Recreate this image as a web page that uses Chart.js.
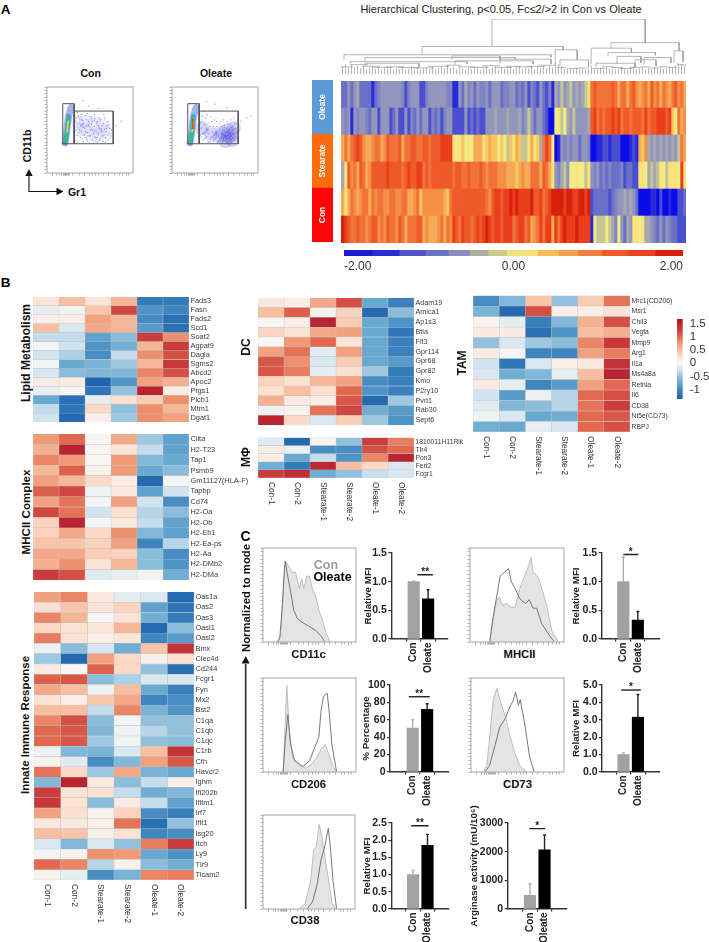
<!doctype html>
<html><head><meta charset="utf-8">
<style>
html,body{margin:0;padding:0;background:#fff}
#fig{position:relative;width:709px;height:942px;overflow:hidden;font-family:'Liberation Sans',Arial,sans-serif}
#fig canvas{position:absolute}
#fig svg{position:absolute;left:0;top:0}
.t{position:absolute;white-space:nowrap;transform:translate(-50%,-50%);line-height:1}
</style>
<script src="https://cdn.jsdelivr.net/npm/chart.js@4"></script>
</head><body><div id="fig"></div>
<script>
/* ---------- DATA ---------- */
const sampleCols=['Con-1','Con-2','Stearate-1','Stearate-2','Oleate-1','Oleate-2'];

const lipidRows=['Fads3','Fasn','Fads2','Scd1','Soat2','Agpat9','Dagla','Sgms2','Abcd2','Apoc2','Ptgs1','Plcb1','Mtm1','Dgat1'];
const lipidVals=[[.2,.5,.2,.55,-1.1,-1.1],[-.1,-.05,.45,1.2,-.9,-1],[.1,.1,.7,.55,-.95,-1.2],[.5,-.2,.65,.55,-.85,-1.2],[-.3,-.3,-.8,-.55,1.25,.8],[-.03,-.25,-.9,-.7,.55,1.25],[-.25,-.4,-.95,-.3,.8,1.15],[-.03,-.75,-.65,-.45,.55,1.3],[-.2,-.55,-.6,-.6,.85,1.15],[.12,.12,-1.3,-.9,.7,.6],[-.1,0,-1.15,-.5,1.5,.1],[-.75,-1.2,-.1,.25,.4,.8],[-.3,-1.15,.3,-.5,.8,.55],[-.25,-1.25,.08,-.45,.8,.7]];

const mhcRows=['Ciita','H2-T23','Tap1','Psmb9','Gm11127(HLA-F)','Tapbp','Cd74','H2-Oa','H2-Ob','H2-Eb1','H2-Ea-ps','H2-Aa','H2-DMb2','H2-DMa'];
const mhcVals=[[.75,1,0,.65,-.45,-.8],[.6,1.5,0,.2,-.3,-.8],[.85,.75,0,.75,-.6,-.75],[.55,1.05,.05,.75,-.75,-.55],[.7,.55,.3,.12,-1.25,-.02],[1.05,1.2,-.05,.15,-.8,-.25],[.7,.95,-.02,.7,-.25,-.95],[1.2,.95,-.25,.25,-.35,-.55],[.35,1.5,-.02,.15,-.3,-.8],[.35,.65,.3,.8,-.6,-.8],[.45,.45,.35,.7,-1,-.35],[.65,.65,.38,.35,-.55,-.95],[.6,.8,.2,.55,-.55,-.9],[1.25,1.15,-.15,-.1,-.02,-.7]];

const innateRows=['Oas1a','Oas2','Oas3','Oasl1','Oasl2','Bmx','Clec4d','Cd244','Fcgr1','Fyn','Mx2','Bst2','C1qa','C1qb','C1qc','C1rb','Cfh','Havcr2','Ighm','Ifi202b','Ifitm1','Irf7','Ifit1','Isg20','Itch','Ly9','Tlr9','Ticam2'];
const innateVals=[[.7,.85,.15,-.12,-.2,-1.25],[.25,.45,.2,.35,-.8,-1.15],[.85,.55,0,.2,-.7,-1.1],[.3,.22,.18,.55,-1.25,-.55],[.9,.22,.08,.18,-1,-.85],[-.08,-.55,-.2,-.7,.45,1.35],[-.45,-1.25,.7,.3,.07,.25],[.12,0,1.05,.3,-.5,-1.2],[1.05,1.1,-.55,-.4,-.2,-.2],[.65,.5,-.05,.5,-.75,-1.05],[.22,.1,.42,.65,-1,-.95],[.5,.5,-.3,.85,-.65,-.9],[.85,1.15,-.55,-.02,-.5,-.5],[1,1.1,-.6,-.05,-.35,-.5],[1,1.1,-.45,-.03,-.5,-.55],[-.05,-.6,-.65,-.2,.5,1.35],[.05,-.15,-.95,-.6,.7,1.1],[.95,.3,-.45,.65,-.65,-.75],[-.6,1.5,.15,-.55,-.3,.1],[1.25,.2,.25,-.3,-.7,-.6],[1.3,.22,-.55,.12,-.3,-.8],[.7,.25,.07,.35,-.95,-1.05],[.18,.15,.08,.95,-1.2,-.5],[.5,.45,.07,.22,-1,-.95],[-.2,-.6,-.2,-.5,.9,1.25],[-.03,.04,.8,.75,-.75,-.9],[1,.85,-.35,.07,-.55,-.7],[.07,-.12,-.95,-.65,.85,.9]];

const dcRows=['Adam19','Amica1','Ap1s3','Btla','Flt3','Gpr114','Gpr68','Gpr82','Kmo','P2ry10','Pvrl1','Rab30','Sept6'];
const dcVals=[[.17,.08,.65,1.15,-.75,-1.05],[.5,1.05,.05,.35,-1.25,-.55],[0,.1,1.5,.4,-.75,-.9],[.33,.22,.65,.7,-.75,-1.15],[0,.75,1,.2,-.75,-1.05],[.7,.95,-.12,.7,-.75,-1.05],[1.1,.8,-.2,.4,-.75,-.85],[1.1,.9,-.12,.25,-.45,-1.1],[.35,.25,.55,.7,-.95,-1.05],[.25,.5,.25,1,-.9,-1.05],[.6,.15,.1,1.1,-1.25,-.45],[-.05,.05,.95,1.2,-.7,-.85],[1.5,.3,-.2,.4,-.45,-.9]];

const mphiRows=['1810011H11Rik','Tlr4','Pon3','Fert2','Fcgr1'];
const mphiVals=[[-.15,-1.25,.04,-.5,1.25,.9],[.12,-.08,-.95,-.95,1.15,1],[.1,-.75,-.3,-.9,.85,1.5],[-.7,-1.1,1.45,.5,.3,-.18],[1.25,1.4,-.7,-.5,-.28,-.2]];

const tamRows=['Mrc1(CD206)','Msr1','Chil3','Vegfa','Mmp9','Arg1','Il1a','Ms4a8a','Retnla','Il6','CD38','Nt5e(CD73)','RBPJ'];
const tamVals=[[-.95,-.6,.45,-.5,.4,.95],[-.65,-1.25,1.15,.08,.08,.2],[.03,-.12,-1.05,-.6,.6,1.15],[.15,.12,-1.2,-.9,.5,.6],[-.5,-.2,-.45,-.55,.85,1.3],[.12,-.02,-1,-1,.7,.9],[-.25,-1.15,-.2,.1,.15,1.35],[-.2,-.7,-.6,-.1,.5,1.5],[.12,-.12,-1,-.85,.7,1],[-.25,-.85,-.08,-.35,1,1.15],[-.15,-.6,-.55,-.35,.95,1.25],[-.05,-.2,-.75,-.7,1,1.1],[-.7,-.75,-.1,-.2,1,1.15]];

const heatStops=[-1.35,-1,-.75,-.5,-.25,0,.25,.5,.75,1,1.25,1.67];
const heatColors=['#1a5fab','#3f86c0','#68a9d1','#92c1de','#d0e3ef','#f7f6f4','#fce0d0','#f8bea0','#f09a76','#e2694f','#cb3d3d','#ad1327'];
const heatLegendTicks=[1.5,1,.5,0,-.5,-1];

/* hierarchical clustering heat map: expression level in steps of 0.25 */
const clusterRows=['Oleate-1','Oleate-2','Stearate-1','Stearate-2','Con-1','Con-2'];
const clusterOleate1=[-5,-5,-3,-5,-3,-2,-5,-5,-5,-5,-7,-5,-4,-3,-3,-3,-3,-3,-3,-3,-4,-6,-4,-3,-3,-3,-6,-6,-4,-3,-3,-3,-3,-3,-3,-4,-4,
 -7,-7,-3,-5,-2,-4,-3,-5,-3,-4,-4,-3,-5,-3,-3,-3,-5,-4,-4,-3,-3,-5,-4,-5,-3,-6,-4,-5,-6,-3,-5,-6,-4,-7,
 -2,-3,-1,-3,-2,-1,-3,-2,-3,-2,-1,1,
 5,6,5,5,5,5,5,6,5,3,5,5,3,5,6,4,
 3,4,5,3,6,4,5,3,5,4,3,5,6,4,5,3];
const clusterOleate2=[-3,-4,-3,-7,-3,-4,-3,-3,-4,-5,-3,-3,-6,-3,-3,-3,-6,-5,-3,-6,-6,-3,-6,-4,-5,-3,-5,-3,-3,-6,-4,-5,-4,-6,-4,-3,-3,
 -6,-6,-6,-6,-3,-6,-5,-6,-5,-6,-6,-3,-3,-3,-2,-3,-3,-3,-2,-3,-3,-3,-2,-4,-3,-1,-3,-5,-3,-3,-5,-6,-8,-8,
 0,1,-1,0,-2,-3,-1,-3,-3,-3,-3,-2,
 6,7,5,6,5,6,6,7,6,7,5,6,6,5,6,6,
 6,5,7,5,6,6,7,7,7,6,7,2,0,5,3,4];
const clusterStearate1=[3,5,3,5,6,7,6,4,3,3,4,5,5,3,4,6,5,5,5,6,3,5,5,6,6,5,5,6,6,5,6,6,6,7,7,7,7,
 1,0,1,2,0,1,0,3,3,3,1,2,3,2,2,0,2,0,-1,2,1,3,2,-1,-1,1,3,1,2,-2,5,7,5,0,
 -8,-7,-3,-4,-3,-4,-3,-3,-5,-3,-3,-4,
 -8,-8,-7,-7,-6,-6,-7,-6,-6,-6,-8,-8,-8,-7,-6,-7,
 3,2,4,-2,-3,-2,-3,-2,-3,-2,-3,-2,-3,-1,5,3];
const clusterStearate2=[-2,1,6,4,5,3,6,5,3,4,6,6,6,6,6,7,6,6,6,6,5,6,7,6,6,7,7,5,6,5,6,6,6,6,6,6,6,
 5,6,6,5,5,6,5,5,5,6,5,4,5,5,5,4,4,4,3,3,3,2,3,4,3,3,5,5,5,3,6,5,3,1,
 -3,-4,-2,-1,-3,0,0,1,0,0,-1,1,
 -3,-4,-3,-5,-4,-5,-4,-5,-5,-5,-4,-6,-5,-5,-6,-6,
 1,1,0,-2,-1,-2,-1,1,0,-1,1,1,1,0,7,1];
const clusterCon1=[3,1,3,5,4,3,4,5,5,3,5,4,5,5,4,4,5,5,4,4,5,5,3,3,4,5,2,4,4,4,4,4,4,4,3,2,5,
 6,6,6,6,6,6,6,6,6,6,6,5,4,6,7,7,6,7,7,8,7,8,7,7,7,7,8,6,6,7,5,6,7,8,
 8,8,8,7,8,8,7,7,8,8,7,8,
 -6,-5,-5,-5,-5,-5,-6,-5,-4,-3,-3,-2,-3,-2,-3,-5,
 -8,-8,-8,-8,-7,-7,-8,-6,-8,-8,-7,-8,-8,-6,-6,-5];
const clusterCon2=[8,7,6,5,5,6,5,5,4,5,6,6,4,5,4,6,5,5,4,6,5,3,5,5,5,6,6,3,4,3,3,3,4,5,3,5,4,
 7,6,5,7,6,6,5,6,7,6,7,8,7,6,7,7,6,7,7,7,5,6,7,7,5,6,3,4,5,7,5,7,7,3,
 7,5,7,8,7,7,7,8,7,7,7,7,
 -7,0,-1,-1,-1,0,-1,-2,-4,0,-3,-5,-2,-3,1,1,
 0,1,-2,-2,-3,-4,-5,-3,-5,-3,-4,-5,-5,-6,-6,-6];
const clusterPalette=['#0a0aeb','#2a2ada','#4a4fcf','#6a70c8','#7f85c4','#9296bd','#a5a8ac','#c5c596','#f2ec88','#f9e27a','#f8c860','#f5ab55','#f58f45','#f2733a','#ef5a2a','#ea3f1c','#d8200f'];
const clusterBarEdges=[-2,-1.67,-1.35,-1.04,-.77,-.52,-.3,-.08,.13,.28,.53,.76,1.04,1.34,1.67,2];
const clusterBarColors=['#1a1ad0','#2a2ed0','#4f55c8','#6a70c4','#8a8cbc','#aaae9f','#cccb8c','#eee47f','#f8e074','#f6bb5b','#f4a04c','#f27f3e','#ee5a2c','#e8431e','#d8200f'];
const clusterBarTicks=[-2,0,2];
const groupNames=['Con','Stearate','Oleate'];
const groupColors=['#ff0606','#fb6c0c','#5b9bd6'];

/* dendrogram: [left, right, top, left base, right base] in leaf index / % height */
const dendroNodes=[[50.3,101.4,100,50,57],[27,74,50,35,44],[1,70,35,25.6,30.5],[8,58,30,24,27],[37,53,33,26,26],[3,42,22.5,19,18],[8,26,19.5,15,13],[38,64,24,17,18],[53,70,27,19,18],[71.4,78.7,44,14,26],[73,82.5,25.6,15,12],[90,112.7,57,47,42],[83.4,96.8,47,18,39],[89,104.8,39,32,34],[85,98,19.5,12,11],[101,110,30,18,20],[111,114,42,20,22],[98,105,26,15,14],[92,100,32,19,20]];
const dendroBrackets=[[0,4,13],[3,9,17],[7,13,14],[11,17,12],[15,21,13],[19,26,12],[24,31,11],[29,36,14],[35,40,16],[39,45,13],[43,49,12],[47,53,15],[51,57,12],[55,60,14],[58,64,13],[62,68,14],[66,71,16],[72,75,12],[76,79,10],[79,82,11],[84,88,10],[87,91,13],[90,94,12],[93,97,10],[96,100,12],[100,103,13],[103,106,11],[106,109,13],[109,112,12],[112,115,17]];
const dendroLeafTops=[14,18,12,16,12,15,10,13,9,12,14,9,11,8,12,10,13,8,11,9,12,8,10,13,9,11,8,10,12,9,13,8,11,14,10,15,11,13,9,12,10,8,12,9,11,13,8,10,14,9,11,12,8,13,9,10,12,8,11,14,9,12,10,13,9,15,11,13,10,16,12,20,18,14,10,11,9,8,11,9,10,8,9,16,10,9,11,8,12,10,9,8,10,12,9,8,11,13,9,10,12,8,11,9,13,10,12,9,11,13,12,16,20,18,15];

/* flow cytometry plots (percent of plot width / height) */
const gateLeft=[[18.3,34],[18.3,80.6],[31.6,80.6],[31.6,34],[18.3,34]];
const gateRight=[[31.6,34],[31.6,72],[77,72],[77,34],[31.6,34]];
const conDots=[[33,38],[35,44],[36,52],[33,60],[37,66],[39,41],[40,48],[41,57],[38,63],[42,36],[43,44],[44,52],[42,61],[45,67],[46,39],[47,47],[48,55],[46,62],[49,35],[50,43],[51,50],[49,58],[52,64],[53,38],[54,46],[55,54],[53,60],[56,42],[57,49],[58,57],[56,63],[59,36],[60,45],[61,52],[59,60],[62,40],[63,48],[64,55],[62,62],[65,37],[66,44],[67,51],[65,58],[68,41],[69,48],[70,55],[67,64],[71,38],[72,46],[73,52],[71,60],[74,43],[75,50],[35,36],[37,47],[39,55],[34,64],[41,40],[43,58],[45,48],[47,37],[48,60],[51,44],[52,57],[54,35],[55,48],[57,59],[58,41],[60,55],[61,38],[63,51],[64,43],[66,57],[68,36],[69,52],[70,44],[72,56],[73,40],[36,58],[38,50],[40,62],[42,53],[44,41],[46,55],[48,43],[50,66],[53,50],[55,61],[57,37],[59,47],[61,64],[34,50],[35,70],[40,68],[47,69],[55,68],[66,68],[80,55],[86,60],[60,75],[48,78],[42,84]];
const conHaze=[[38,50],[45,50],[52,45],[60,45],[68,48],[35,60],[45,60],[55,58],[65,55]];
const oleateDots=[[33,44],[34,52],[35,60],[36,38],[37,47],[38,56],[39,64],[40,42],[41,50],[42,36],[43,46],[44,54],[45,40],[46,60],[47,48],[48,37],[49,44],[50,52],[51,40],[52,47],[53,36],[54,43],[55,50],[56,38],[57,46],[58,40],[59,36],[60,44],[61,50],[62,38],[63,42],[64,47],[65,36],[66,41],[67,45],[68,39],[69,43],[70,49],[71,37],[72,41],[73,46],[74,52],[58,45],[59,50],[60,38],[61,42],[62,47],[63,36],[64,40],[65,44],[66,38],[67,42],[68,47],[69,36],[70,40],[71,45],[72,50],[73,38],[74,42],[75,47],[60,41],[62,43],[64,39],[66,46],[68,43],[70,42],[65,48],[63,52],[67,51],[69,53],[71,55],[73,57],[61,56],[58,55],[55,58],[52,60],[49,62],[45,65],[41,68],[37,72],[35,66],[33,58],[34,42],[36,46],[38,40],[40,52],[42,58],[44,36],[46,42],[48,54],[50,46],[52,54],[54,37],[56,52],[57,60],[60,62],[64,60],[68,62],[72,64],[75,58],[76,40],[76,48],[77,36],[80,60],[87,64],[92,66],[64,76],[50,80],[40,83]];
const oleateHaze=[[35,52],[45,45],[55,42],[65,42],[70,45],[65,50],[70,38],[62,37],[72,52],[58,47]];
const flowBlue=[[21,35],[23,50],[25,66],[28,76]];
const flowCyan=[[21.5,35],[23.5,50],[25,66]];
const flowGreen=[[22,37],[23.5,52],[25,64]];
const flowYellow=[[23.5,48],[24.5,60]];
const flowRed=[[23.6,52],[24.3,62]];
const flowTicksX=[6,11,14,17,19,20,21,22,23,24,25,26,30,38,44,49,53,56,60,66,72,78,84,88,92,95];

/* histograms */
const cd11cCon=[[15.5,0],[19,7],[22,59],[24,86],[28,80],[31.7,74],[35,74],[39,57],[41.7,67],[44,57],[47,70],[50,70],[53,57],[57,48],[60,34],[64,23],[68,9],[72,1]];
const cd11cOleate=[[15.5,0],[18,4],[21,41],[23,77],[24,86],[26,73],[30,52],[33,34],[37,25],[42,21],[49,17],[57,12],[62,7],[66,1]];
const mhciiCon=[[21,0],[25,27],[28,43],[31,48],[35,39],[39,41],[43,37],[48,37],[53,57],[59,73],[62,80],[65,90],[67,75],[73,68],[77,55],[82,37],[87,12],[94,0]];
const mhciiOleate=[[21,0],[24,23],[28,46],[32,70],[35,73],[41,78],[44,64],[48,57],[53,46],[59,41],[63,45],[67,36],[71,36],[76,20],[83,9],[89,1]];
const cd206Con=[[21.6,0],[23.5,41],[25.6,92],[28,48],[31.7,16],[39,7],[46,4],[53,9],[58,16],[63,25],[67,29],[71,18],[75,7],[79,0]];
const cd206Oleate=[[21.6,0],[24,34],[26.7,61],[29.6,30],[34,12],[43,6],[50,12],[56,27],[60,37],[62.5,66],[65,80],[69,84],[71,66],[74,30],[79,1]];
const cd73Con=[[13,0],[17,7],[20.5,41],[24,78],[28,89],[31,77],[37,59],[42,38],[47,20],[53,6],[60,0]];
const cd73Oleate=[[15,0],[20,7],[26,29],[31,48],[37,57],[42,70],[45,75],[48,85],[51,71],[53,77],[58,50],[63,16],[68,0]];
const cd38Con=[[39,0],[46,6],[52,31],[55,63],[58,66],[61,90],[64,77],[68,50],[72,27],[75,6],[79,0]];
const cd38Oleate=[[48,0],[54,8],[59,27],[63,52],[67,66],[71,86],[73.5,63],[76,31],[80,0]];

/* bars */
const barCats=['Con','Oleate'];
const cd11cMfi=[1,.7], cd11cErr=[.01,.16];
const mhciiMfi=[1,.33], mhciiErr=[.43,.15];
const cd206Pct=[50.5,72], cd206Err=[9.5,6.5];
const cd73Mfi=[1,3.15], cd73Err=[.1,1.3];
const cd38Mfi=[1,1.85], cd38Err=[.13,.32];
const arginase=[480,2060], arginaseErr=[400,520];

/* ---------- HELPERS ---------- */
Chart.defaults.font.family="'Liberation Sans',Arial,sans-serif";
Chart.defaults.animation=false;
Chart.defaults.responsive=false;
Chart.defaults.plugins.legend.display=false;
Chart.defaults.plugins.tooltip.enabled=false;
const fig=document.getElementById('fig');
function place(x,y,w,h){const c=document.createElement('canvas');c.width=Math.round(w);c.height=Math.round(h);c.style.left=x+'px';c.style.top=y+'px';fig.appendChild(c);return c;}
function txt(s,x,y,o={}){const e=document.createElement('div');e.className='t';e.textContent=s;e.style.left=x+'px';e.style.top=y+'px';e.style.fontSize=(o.size||10)+'px';e.style.fontWeight=o.bold?'bold':'normal';e.style.color=o.color||'#111';if(o.rot)e.style.transform='translate(-50%,-50%) rotate('+o.rot+'deg)';fig.appendChild(e);}
function hex(c){return [1,3,5].map(i=>parseInt(c.substr(i,2),16));}
function heatColor(v){
  if(v<=heatStops[0])return heatColors[0];
  for(let i=1;i<heatStops.length;i++){if(v<=heatStops[i]){const t=(v-heatStops[i-1])/(heatStops[i]-heatStops[i-1]);const a=hex(heatColors[i-1]),b=hex(heatColors[i]);return 'rgb('+a.map((q,k)=>Math.round(q+(b[k]-q)*t)).join(',')+')';}}
  return heatColors[heatColors.length-1];
}
const pts=a=>a.map(p=>({x:p[0],y:p[1]}));
const colLabelPlugin={id:'colLabels',afterDraw(ch){const {ctx,chartArea:a,scales:{x}}=ch;ctx.save();ctx.fillStyle='#333';ctx.font="8.4px 'Liberation Sans',Arial,sans-serif";ctx.textAlign='left';ctx.textBaseline='middle';sampleCols.forEach((c,j)=>{ctx.save();ctx.translate(x.getPixelForValue(j+.5),a.bottom+4);ctx.rotate(Math.PI/2);ctx.fillText(c,0,0);ctx.restore();});ctx.restore();}};
function heat(x,y,w,h,rows,vals,labelSize,showCols){
  const pt=4,pb=showCols?46:4,lw=62;
  new Chart(place(x,y-pt,w+lw,h+pt+pb),{type:'bar',plugins:showCols?[colLabelPlugin]:[],
    data:{labels:rows,datasets:sampleCols.map((c,j)=>({label:c,data:vals.map(()=>1),backgroundColor:vals.map(r=>heatColor(r[j])),borderColor:'rgba(150,150,150,.45)',borderWidth:.5,borderSkipped:false,barPercentage:1,categoryPercentage:1}))},
    options:{indexAxis:'y',layout:{padding:{top:pt,bottom:pb,left:0,right:0}},scales:{
      x:{type:'linear',stacked:true,min:0,max:6,display:false},
      y:{position:'right',stacked:true,grid:{display:false,drawTicks:false},border:{display:false},ticks:{autoSkip:false,color:'#3a3a3a',padding:1.5,font:{size:labelSize}},afterFit:s=>{s.width=lw;}}}}});
}
const framePlugin={id:'frame',afterDatasetsDraw(ch){const {ctx,chartArea:a}=ch;ctx.save();ctx.strokeStyle='#b4b4b4';ctx.lineWidth=1.2;ctx.strokeRect(a.left,a.top,a.width,a.height);ctx.restore();}};
function boxChart(x,y,w,h,datasets){
  const L=5,B=5,T=2,R=2;
  const ax=(ticks)=>({min:0,max:100,grid:{drawOnChartArea:false,tickLength:2.5,color:'#777',lineWidth:.6},border:{display:false},ticks:{display:false},afterBuildTicks:s=>{s.ticks=ticks.map(v=>({value:v}));}});
  const yt=[0,4,8,12,16,20,24,28,32,36,40,44,48,52,56,60,64,68,72,76,80,84,88,92,96,100];
  new Chart(place(x-L,y-T,w+L+R,h+T+B),{type:'scatter',plugins:[framePlugin],data:{datasets},
    options:{layout:{padding:{top:T,right:R,left:0,bottom:0}},scales:{
      x:Object.assign(ax(flowTicksX),{type:'linear',afterFit:s=>{s.height=B;}}),
      y:Object.assign(ax(yt),{type:'linear',afterFit:s=>{s.width=L;}})}}});
}
const lineDs=(a,color,width,extra)=>Object.assign({data:pts(a),showLine:true,pointRadius:0,borderColor:color,borderWidth:width,backgroundColor:'transparent',borderCapStyle:'round',tension:0},extra||{});
/* Chart.js paints dataset 0 last, so the top-most layer comes first */
function flow(x,y,dots,haze,hazeAlpha,core){
  boxChart(x,y,93,93,[
    lineDs(gateLeft,'#555',1),
    lineDs(gateRight,'#555',1),
    ...core,
    lineDs(flowYellow,'#d9dd3c',1.8),
    lineDs(flowGreen,'rgba(50,195,105,.95)',2.8),
    lineDs(flowCyan,'rgba(30,165,215,.8)',4.5),
    lineDs(flowBlue,'rgba(60,80,225,.45)',7),
    {data:pts(dots),pointRadius:.7,backgroundColor:'rgba(55,55,215,.48)',borderWidth:0},
    {data:pts(haze),pointRadius:7,backgroundColor:'rgba(70,70,225,'+hazeAlpha+')',borderWidth:0}
  ]);
}
function hist(x,y,w,h,con,ole){
  boxChart(x,y,w,h,[
    lineDs(ole,'#6a6a6a',.9),
    lineDs(con,'#bdbdbd',1,{fill:'origin',backgroundColor:'#e4e4e4'})
  ]);
}
const starPlugin={id:'stars',afterDatasetsDraw(ch){const o=ch.config.options.starCfg;if(!o)return;const {ctx,scales:{x,y}}=ch;ctx.save();ctx.fillStyle='#222';ctx.font="bold 10px 'Liberation Sans',Arial,sans-serif";ctx.textAlign='center';ctx.textBaseline='middle';ctx.fillText(o.text,x.getPixelForValue((o.from+o.to)/2),y.getPixelForValue(o.y)-2.5);ctx.restore();}};
function bars(o){
  const left=o.titleX-6,T=o.T||8,R=4,B=36,spacing=29;
  const xMin=(o.axisX-o.c0)/spacing,xMax=xMin+(o.right-o.axisX)/spacing;
  const cap=.1;
  const colors=['#a2a2a2','#000000'],errCol=['#adadad','#222'];
  const errDs=o.vals.map((m,i)=>({type:'line',data:[{x:i,y:m},{x:i,y:m+o.errs[i]},{x:i-cap,y:m+o.errs[i]},{x:i+cap,y:m+o.errs[i]}],borderColor:errCol[i],borderWidth:1.4,pointRadius:0,tension:0,fill:false,order:2}));
  new Chart(place(left,o.top-T,o.right-left+R,o.bottom-o.top+T+B),{type:'bar',plugins:[starPlugin],
    data:{datasets:[{data:o.vals.map((v,i)=>({x:i,y:v})),backgroundColor:colors,barThickness:11.5,order:3},...errDs,
      {type:'line',data:[{x:o.sigFrom,y:o.sigY},{x:o.sigTo,y:o.sigY}],borderColor:'#222',borderWidth:1.4,pointRadius:0,order:1}]},
    options:{starCfg:{text:o.stars,from:o.sigFrom,to:o.sigTo,y:o.sigY},layout:{padding:{top:T,right:R,left:0,bottom:0}},scales:{
      x:{type:'linear',min:xMin,max:xMax,grid:{drawOnChartArea:false,tickLength:2.5,color:'#333',lineWidth:1.2},border:{color:'#333',width:1.4},
        afterBuildTicks:s=>{s.ticks=[{value:0},{value:1}];},afterFit:s=>{s.height=B;},
        ticks:{autoSkip:false,minRotation:90,maxRotation:90,padding:1,color:'#222',font:{size:10,weight:'bold'},callback:v=>barCats[v]}},
      y:{min:0,max:o.max,grid:{drawOnChartArea:false,tickLength:3,color:'#333',lineWidth:1.2},border:{color:'#333',width:1.4},afterFit:s=>{s.width=o.axisX-left;},
        ticks:{stepSize:o.step,padding:1.5,color:'#222',font:{size:10.5,weight:'bold'},callback:v=>v.toFixed(o.dec)},
        title:{display:true,text:o.title,padding:0,color:'#222',font:{size:9.8,weight:'bold'}}}}}});
}

/* ---------- PANEL A ---------- */
txt('A',5.5,10,{size:13.5,bold:true,color:'#000'});
txt('Hierarchical Clustering, p<0.05, Fc≤2/>2 in Con vs Oleate',501,8.5,{size:11,color:'#222'});
txt('Con',90.7,73,{size:10.5,bold:true});
txt('Oleate',216,73,{size:10.5,bold:true});
flow(45,82,conDots,conHaze,.09,[]);
flow(170,82,oleateDots,oleateHaze,.22,[lineDs(flowRed,'#dd4a12',1.6)]);
txt('CD11b',27,146,{size:10.5,bold:true,rot:-90});
txt('Gr1',77,191.5,{size:10.5,bold:true});

/* dendrogram */
(function(){
  const d=[];const add=(x1,y1,x2,y2)=>{d.push({x:x1,y:y1},{x:x2,y:y2},{x:null,y:null});};
  dendroLeafTops.forEach((h,i)=>add(i+.5,0,i+.5,h));
  dendroBrackets.forEach(b=>add(b[0],b[2],b[1],b[2]));
  dendroNodes.forEach(n=>{add(n[0],n[3],n[0],n[2]);add(n[0],n[2],n[1],n[2]);add(n[1],n[2],n[1],n[4]);});
  new Chart(place(341,19,345,55),{type:'scatter',data:{datasets:[{data:d,showLine:true,pointRadius:0,borderColor:'#969696',borderWidth:.7,spanGaps:false}]},
    options:{scales:{x:{type:'linear',min:0,max:115,display:false},y:{min:0,max:100,display:false}}}});
})();

/* group strip */
(function(){
  const S=place(312,80,21,162);
  new Chart(S,{type:'bar',plugins:[{id:'stripText',afterDraw(ch){const c=ch.ctx;c.save();c.fillStyle='#fff';c.font="bold 8.4px 'Liberation Sans',Arial,sans-serif";c.textAlign='center';c.textBaseline='middle';ch.data.datasets.forEach((ds,i)=>{const e=ch.getDatasetMeta(i).data[0];c.save();c.translate(e.x,(e.y+e.base)/2);c.rotate(-Math.PI/2);c.fillText(ds.label,0,0);c.restore();});c.restore();}}],
    data:{labels:['group'],datasets:groupNames.map((g,i)=>({label:g,data:[1],backgroundColor:groupColors[i],barPercentage:1,categoryPercentage:1}))},
    options:{scales:{x:{stacked:true,display:false},y:{stacked:true,min:0,max:3,display:false}}}});
})();

/* clustered heat map */
(function(){
  const rows=[clusterOleate1,clusterOleate2,clusterStearate1,clusterStearate2,clusterCon1,clusterCon2];
  const ds=clusterOleate1.map((_,j)=>({data:rows.map(()=>1),backgroundColor:rows.map(r=>clusterPalette[(r[j]||0)+8]),borderWidth:0,barPercentage:1,categoryPercentage:1}));
  new Chart(place(341,81,345,162),{type:'bar',data:{labels:clusterRows,datasets:ds},
    options:{indexAxis:'y',scales:{x:{type:'linear',stacked:true,min:0,max:clusterOleate1.length,display:false},y:{stacked:true,display:false}}}});
})();

/* clustered colour bar */
new Chart(place(341,250,345,24),{type:'bar',
  data:{labels:['scale'],datasets:clusterBarColors.map((c,i)=>({data:[[clusterBarEdges[i],clusterBarEdges[i+1]]],backgroundColor:c,borderWidth:0,grouped:false,barPercentage:1,categoryPercentage:1}))},
  options:{indexAxis:'y',scales:{
    x:{type:'linear',min:-2,max:2,grid:{display:false,drawTicks:false},border:{display:false},afterBuildTicks:s=>{s.ticks=clusterBarTicks.map(v=>({value:v}));},afterFit:s=>{s.height=18;},
      ticks:{align:'inner',maxRotation:0,autoSkip:false,color:'#333',padding:3,font:{size:12},callback:v=>v.toFixed(2)}},
    y:{display:false}}}});

/* ---------- PANEL B ---------- */
txt('B',5.5,283,{size:13.5,bold:true,color:'#000'});
heat(33,295,156,129,lipidRows,lipidVals,7.4,false);
heat(33,432,156,150,mhcRows,mhcVals,7.4,false);
heat(33.5,590,160,290,innateRows,innateVals,7.4,true);
heat(258,295.5,156,131,dcRows,dcVals,7.2,false);
heat(258,436,156,42,mphiRows,mphiVals,6.8,true);
heat(473,293.5,157,138,tamRows,tamVals,6.8,true);
txt('Lipid Metabolism',26,353,{size:12,bold:true,rot:-90});
txt('MHCII Complex',26,512,{size:11.6,bold:true,rot:-90});
txt('Innate Immune Response',26,724.5,{size:11.4,bold:true,rot:-90});
txt('DC',246,346.5,{size:12,bold:true,rot:-90});
txt('MΦ',246,457,{size:12,bold:true,rot:-90});
txt('TAM',462,363,{size:12,bold:true,rot:-90});

/* expression colour legend */
new Chart(place(676.7,305,32.3,108),{type:'bar',
  data:{labels:['z'],datasets:[{data:[[-1.35,1.67]],barPercentage:1,categoryPercentage:1,backgroundColor(c){const ch=c.chart;if(!ch.chartArea)return '#fff';const y=ch.scales.y;const g=ch.ctx.createLinearGradient(0,y.getPixelForValue(-1.35),0,y.getPixelForValue(1.67));heatStops.forEach((v,i)=>g.addColorStop((v+1.35)/3.02,heatColors[i]));return g;}}]},
  options:{layout:{padding:{top:6.7,bottom:6.3,left:0,right:0}},scales:{
    x:{display:false},
    y:{position:'right',min:-1.35,max:1.67,grid:{display:false,drawTicks:false},border:{display:false},afterFit:s=>{s.width=26.3;},afterBuildTicks:s=>{s.ticks=heatLegendTicks.map(v=>({value:v}));},
      ticks:{autoSkip:false,padding:7,color:'#333',font:{size:11.5},callback:v=>String(v)}}}}});

/* ---------- PANEL C ---------- */
txt('C',245.5,536,{size:14,bold:true,color:'#000'});
txt('Normalized to mode',246.5,597.5,{size:11.3,bold:true,rot:-90});
hist(262.5,548,92.5,94,cd11cCon,cd11cOleate);
hist(470,548,94,94,mhciiCon,mhciiOleate);
hist(262.5,678,92.5,94,cd206Con,cd206Oleate);
hist(471,678,93,94,cd73Con,cd73Oleate);
hist(262.5,815,91.5,94,cd38Con,cd38Oleate);
txt('Con',326,564.5,{size:12.5,bold:true,color:'#9a9a9a'});
txt('Oleate',332.5,577,{size:12.5,bold:true,color:'#000'});
txt('CD11c',308.5,655,{size:11.3,bold:true});
txt('MHCII',519.5,655,{size:11.3,bold:true});
txt('CD206',308.5,784.5,{size:11.3,bold:true});
txt('CD73',517.5,784.5,{size:11.3,bold:true});
txt('CD38',305,921,{size:11.3,bold:true});

bars({axisX:391,top:553.3,bottom:639.3,right:448,c0:407.5,titleX:367.7,title:'Relative MFI',vals:cd11cMfi,errs:cd11cErr,max:1.5,step:.5,dec:1,sigY:1.12,sigFrom:.26,sigTo:1.33,stars:'**'});
bars({axisX:601.7,top:553.3,bottom:639.3,right:660,c0:615.8,titleX:576,title:'Relative MFI',vals:mhciiMfi,errs:mhciiErr,max:1.5,step:.5,dec:1,sigY:1.475,sigFrom:0,sigTo:1.03,stars:'*'});
bars({axisX:390,top:685.3,bottom:772,right:449,c0:405.8,titleX:366,title:'% Percentage',vals:cd206Pct,errs:cd206Err,max:100,step:20,dec:0,sigY:86.5,sigFrom:-.27,sigTo:1.18,stars:'**'});
bars({axisX:601.7,top:685,bottom:772,right:660,c0:615.8,titleX:575.7,title:'Relative MFI',vals:cd73Mfi,errs:cd73Err,max:5,step:1,dec:1,sigY:4.71,sigFrom:-.16,sigTo:1.2,stars:'*'});
bars({axisX:391,top:822.7,bottom:909,right:449,c0:405.8,titleX:366.7,title:'Relative MFI',vals:cd38Mfi,errs:cd38Err,max:2.5,step:.5,dec:1,sigY:2.42,sigFrom:-.13,sigTo:1.08,stars:'**'});
bars({T:24,axisX:507.7,top:822.7,bottom:909,right:566.7,c0:522.5,titleX:474,title:'Arginase activity (mU/10⁶)',vals:arginase,errs:arginaseErr,max:3000,step:1000,dec:0,sigY:2805,sigFrom:-.05,sigTo:1.04,stars:'*'});

/* arrows */
const svg=`<svg width="709" height="942" xmlns="http://www.w3.org/2000/svg">
<path d="M29 175V191.5H57" fill="none" stroke="#111" stroke-width="1.1"/>
<polygon points="29,169 25.3,176 32.7,176" fill="#111"/><polygon points="63.5,191.5 56.5,187.8 56.5,195.2" fill="#111"/>
<line x1="245.7" y1="664" x2="245.7" y2="909" stroke="#333" stroke-width="1.7"/>
<polygon points="245.7,656 241.8,663.5 249.6,663.5" fill="#111"/></svg>`;
fig.insertAdjacentHTML('beforeend',svg);
</script></body></html>
